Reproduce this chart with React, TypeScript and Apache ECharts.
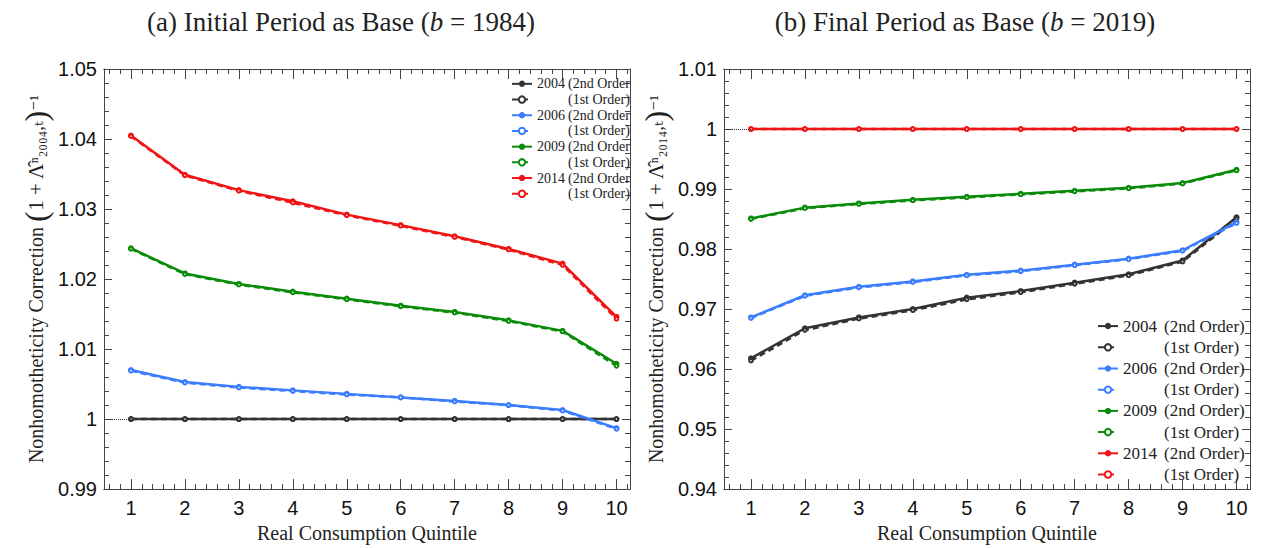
import React, { useEffect, useRef } from "react";
import * as echarts from "echarts";

const quintiles = [1, 2, 3, 4, 5, 6, 7, 8, 9, 10];
const minorTicks = [0.6, 0.8, 1.2, 1.4, 1.6, 1.8, 2.2, 2.4, 2.6, 2.8, 3.2, 3.4, 3.6, 3.8, 4.2, 4.4, 4.6, 4.8, 5.2, 5.4, 5.6, 5.8, 6.2, 6.4, 6.6, 6.8, 7.2, 7.4, 7.6, 7.8, 8.2, 8.4, 8.6, 8.8, 9.2, 9.4, 9.6, 9.8, 10.2];

// Panel (a): base 1984
const a2004Second = [1, 1, 1, 1, 1, 1, 1, 1, 1, 1];
const a2004First = [1, 1, 1, 1, 1, 1, 1, 1, 1, 1];
const a2006Second = [1.007, 1.0053, 1.0046, 1.0041, 1.0036, 1.0031, 1.0026, 1.002, 1.0013, 0.9987];
const a2006First = [1.0069, 1.0052, 1.0045, 1.004, 1.0035, 1.0031, 1.0025, 1.002, 1.0012, 0.9986];
const a2009Second = [1.0244, 1.0208, 1.0193, 1.0182, 1.0172, 1.0162, 1.0153, 1.0141, 1.0126, 1.0079];
const a2009First = [1.0243, 1.0207, 1.0192, 1.0181, 1.0171, 1.0161, 1.0152, 1.014, 1.0125, 1.0076];
const a2014Second = [1.0405, 1.0349, 1.0327, 1.0311, 1.0292, 1.0277, 1.0261, 1.0243, 1.0222, 1.0146];
const a2014First = [1.0404, 1.0348, 1.0326, 1.0309, 1.0291, 1.0276, 1.026, 1.0242, 1.022, 1.0143];

// Panel (b): base 2019
const b2004Second = [0.9618, 0.9668, 0.9686, 0.97, 0.9719, 0.973, 0.9744, 0.9758, 0.9781, 0.9853];
const b2004First = [0.9614, 0.9665, 0.9684, 0.9698, 0.9716, 0.9728, 0.9742, 0.9756, 0.9779, 0.985];
const b2006Second = [0.9686, 0.9723, 0.9737, 0.9746, 0.9757, 0.9764, 0.9774, 0.9784, 0.9798, 0.9845];
const b2006First = [0.9685, 0.9722, 0.9736, 0.9745, 0.9756, 0.9763, 0.9773, 0.9783, 0.9797, 0.9843];
const b2009Second = [0.9851, 0.9869, 0.9876, 0.9882, 0.9887, 0.9892, 0.9897, 0.9902, 0.991, 0.9932];
const b2009First = [0.985, 0.9868, 0.9875, 0.9881, 0.9886, 0.9891, 0.9896, 0.9901, 0.9909, 0.9931];
const b2014Second = [1, 1, 1, 1, 1, 1, 1, 1, 1, 1];
const b2014First = [1, 1, 1, 1, 1, 1, 1, 1, 1, 1];

const years = ["2004", "2006", "2009", "2014"];
const colors = ["#333333", "#3b7dff", "#0a8c0a", "#f01414"];

const SERIF = "'Liberation Serif', 'DejaVu Serif', serif";
const SANS = "'Liberation Sans', Arial, sans-serif";
const AXIS_COLOR = "#444";

function pairs(vals: number[]) {
  return quintiles.map((q, i) => [q, vals[i]]);
}

export default function App() {
  const ref = useRef<HTMLDivElement>(null);

  useEffect(() => {
    if (!ref.current) return;
    const chart = echarts.init(ref.current, null, { renderer: "svg" });

    const grids = [
      { left: 104, top: 69, width: 526, height: 424 },
      { left: 724, top: 69, width: 526, height: 424 },
    ];

    const xAxes: any[] = [];
    const yAxes: any[] = [];
    [0, 1].forEach((g) => {
      const base = {
        type: "value",
        gridIndex: g,
        min: 0.5,
        max: 10.25,
        splitLine: { show: false },
        axisLine: { show: true, onZero: false, lineStyle: { color: AXIS_COLOR, width: 1 } },
      };
      xAxes.push({
        ...base,
        position: "bottom",
        name: "Real Consumption Quintile",
        nameLocation: "middle",
        nameGap: 33,
        nameTextStyle: { fontFamily: SERIF, fontSize: 20, color: "#222" },
        axisTick: { show: true, inside: true, length: 10, customValues: quintiles, lineStyle: { color: AXIS_COLOR } },
        axisLabel: { show: true, margin: 9, fontFamily: SANS, fontSize: 20, color: "#111", customValues: quintiles },
      });
      xAxes.push({
        ...base,
        position: "bottom",
        axisTick: { show: true, inside: true, length: 5, customValues: minorTicks, lineStyle: { color: AXIS_COLOR } },
        axisLabel: { show: false },
      });
      xAxes.push({
        ...base,
        position: "top",
        axisTick: { show: true, inside: true, length: 10, customValues: quintiles, lineStyle: { color: AXIS_COLOR } },
        axisLabel: { show: false },
      });
      xAxes.push({
        ...base,
        position: "top",
        axisTick: { show: true, inside: true, length: 5, customValues: minorTicks, lineStyle: { color: AXIS_COLOR } },
        axisLabel: { show: false },
      });

      const yMin = g === 0 ? 0.99 : 0.94;
      const yMax = g === 0 ? 1.05 : 1.01;
      const sub = g === 0 ? "₂₀₀₄,ₜ" : "₂₀₁₄,ₜ";
      const yBase = {
        type: "value",
        gridIndex: g,
        min: yMin,
        max: yMax,
        interval: 0.01,
        splitLine: { show: false },
        axisLine: { show: true, onZero: false, lineStyle: { color: AXIS_COLOR, width: 1 } },
        axisTick: { show: true, inside: true, length: 8, lineStyle: { color: AXIS_COLOR } },
        minorTick: { show: true, splitNumber: 5, length: 5, lineStyle: { color: AXIS_COLOR } },
      };
      yAxes.push({
        ...yBase,
        position: "left",
        name: `{t|Nonhomotheticity Correction }{p|(}{m|1 + Λ̂}{s|ⁿ${sub}}{p|)}{s|⁻¹}`,
        nameLocation: "middle",
        nameGap: 52,
        nameTextStyle: {
          fontFamily: SERIF,
          fontSize: 20,
          color: "#222",
          rich: {
            t: { fontFamily: SERIF, fontSize: 20, color: "#222" },
            p: { fontFamily: SERIF, fontSize: 32, color: "#222" },
            m: { fontFamily: SERIF, fontSize: 21, color: "#222" },
            s: { fontFamily: SERIF, fontSize: 19, color: "#222" },
          },
        },
        axisLabel: {
          show: true,
          margin: 7,
          fontFamily: SANS,
          fontSize: 20,
          color: "#111",
          formatter: (v: number) => String(parseFloat(v.toFixed(2))),
        },
      });
      yAxes.push({
        ...yBase,
        position: "right",
        axisLabel: { show: false },
      });
    });

    const panelData = [
      [
        [a2004Second, a2004First],
        [a2006Second, a2006First],
        [a2009Second, a2009First],
        [a2014Second, a2014First],
      ],
      [
        [b2004Second, b2004First],
        [b2006Second, b2006First],
        [b2009Second, b2009First],
        [b2014Second, b2014First],
      ],
    ];

    const series: any[] = [];
    const legendNames: string[][] = [[], []];
    panelData.forEach((panel, g) => {
      panel.forEach(([second, first], k) => {
        const prefix = g === 0 ? "A" : "B";
        const n2 = `${prefix}|${years[k]}|2`;
        const n1 = `${prefix}|${years[k]}|1`;
        legendNames[g].push(n2, n1);
        const refLine =
          (g === 0 && k === 0) || (g === 1 && k === 3)
            ? {
                silent: true,
                symbol: "none",
                label: { show: false },
                lineStyle: { type: "dotted", color: "#333", width: 1 },
                data: [[{ coord: [0.5, 1] }, { coord: [1, 1] }]],
              }
            : undefined;
        series.push({
          name: n2,
          type: "line",
          xAxisIndex: g * 4,
          yAxisIndex: g * 2,
          data: pairs(second),
          symbol: "circle",
          symbolSize: 6,
          showSymbol: true,
          color: colors[k],
          lineStyle: { width: 2.5, color: colors[k] },
          itemStyle: { color: colors[k] },
          markLine: refLine,
        });
        series.push({
          name: n1,
          type: "line",
          xAxisIndex: g * 4,
          yAxisIndex: g * 2,
          data: pairs(first),
          symbol: "emptyCircle",
          symbolSize: 3.5,
          showSymbol: true,
          color: colors[k],
          lineStyle: { width: 2.5, color: colors[k], type: [6, 4] },
          itemStyle: { color: colors[k], borderColor: colors[k], borderWidth: 1.5 },
        });
      });
    });

    const makeFormatter = (closeParen: boolean) => (name: string) => {
      const [, yr, ord] = name.split("|");
      if (ord === "2") return `{y|${yr}}{o|(2nd Order${closeParen ? ")" : ""}}`;
      return `{y|}{o|(1st Order)}`;
    };

    const titleStyle = {
      fontFamily: SERIF,
      fontSize: 27,
      fontWeight: "normal",
      color: "#222",
      rich: { i: { fontFamily: SERIF, fontSize: 27, fontStyle: "italic", color: "#222" } },
    };

    const option: any = {
      animation: false,
      backgroundColor: "#ffffff",
      title: [
        {
          text: "(a) Initial Period as Base ({i|b} = 1984)",
          left: 336,
          top: 3,
          textAlign: "center",
          textStyle: titleStyle,
        },
        {
          text: "(b) Final Period as Base ({i|b} = 2019)",
          left: 960,
          top: 3,
          textAlign: "center",
          textStyle: titleStyle,
        },
      ],
      grid: grids,
      xAxis: xAxes,
      yAxis: yAxes,
      legend: [
        {
          data: legendNames[0],
          orient: "vertical",
          left: 511,
          top: 76,
          itemWidth: 20,
          itemHeight: 8,
          itemGap: 0,
          padding: 0,
          selectedMode: false,
          formatter: makeFormatter(false),
          textStyle: {
            fontFamily: SERIF,
            fontSize: 14,
            lineHeight: 15.7,
            color: "#222",
            rich: {
              y: { width: 31, fontFamily: SERIF, fontSize: 14, color: "#222" },
              o: { fontFamily: SERIF, fontSize: 14, color: "#222" },
            },
          },
        },
        {
          data: legendNames[1],
          orient: "vertical",
          left: 1097,
          top: 317,
          itemWidth: 20,
          itemHeight: 8,
          itemGap: 3,
          padding: 0,
          selectedMode: false,
          formatter: makeFormatter(true),
          textStyle: {
            fontFamily: SERIF,
            fontSize: 17,
            lineHeight: 18.2,
            color: "#222",
            rich: {
              y: { width: 41, fontFamily: SERIF, fontSize: 17, color: "#222" },
              o: { fontFamily: SERIF, fontSize: 17, color: "#222" },
            },
          },
        },
      ],
      series,
    };

    chart.setOption(option);
    return () => chart.dispose();
  }, []);

  return (
    <div
      ref={ref}
      style={{ position: "fixed", left: 0, top: 0, width: 1270, height: 548, background: "#fff" }}
    />
  );
}
